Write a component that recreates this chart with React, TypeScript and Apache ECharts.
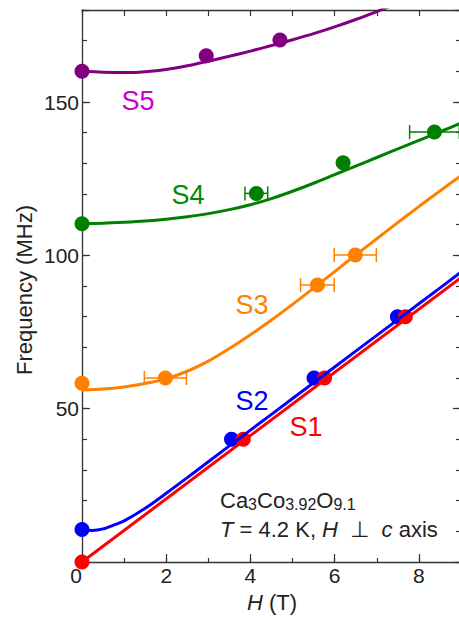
import React, { useEffect, useRef } from 'react';
import * as echarts from 'echarts';

// Measured resonance points [H (T), frequency (MHz)]
const S1_POINTS = [[0, 0], [3.83, 40], [5.76, 60], [7.68, 80]];
const S2_POINTS = [[0, 10.6], [3.55, 40], [5.51, 60], [7.49, 80]];
const S3_POINTS = [[0, 58.3], [1.98, 60], [5.59, 90.3], [6.49, 100.1]];
const S4_POINTS = [[0, 110.3], [4.14, 120.2], [6.2, 130.2], [8.37, 140.2]];
const S5_POINTS = [[0, 160], [2.95, 165.1], [4.7, 170.2]];

// Field uncertainties [H, frequency, ±dH]
const S3_ERR = [[1.98, 60, 0.5], [5.59, 90.3, 0.4], [6.49, 100.1, 0.5]];
const S4_ERR = [[4.14, 120.2, 0.27], [8.37, 140.2, 0.59]];

// Fitted curves
const S1_FIT = [[0, 0], [9, 92.7]];
const S2_FIT = [[0, 10.6], [0.25, 10.3], [0.5, 10.8], [0.75, 12], [1, 13.4], [1.5, 17.5], [2, 22.4], [2.5, 27.5], [3, 32.7], [4, 43], [5, 53.3], [6, 63.6], [7, 73.9], [8, 84.2], [9, 94.5]];
const S3_FIT = [[0, 56.1], [0.5, 56.4], [1, 57.1], [1.5, 58.2], [2, 59.8], [2.5, 62.2], [3, 65.5], [3.5, 69.6], [4, 74.1], [4.5, 78.9], [5, 84], [5.5, 89.3], [6, 94.7], [6.5, 100.1], [7, 105.4], [7.5, 110.7], [8, 115.9], [8.5, 121], [9, 126]];
const S4_FIT = [[0, 110.4], [0.5, 110.5], [1, 110.8], [1.5, 111.2], [2, 111.8], [2.5, 112.6], [3, 113.6], [3.5, 114.9], [4, 116.5], [4.5, 118.5], [5, 120.9], [5.5, 123.5], [6, 126.3], [6.5, 129.1], [7, 131.9], [7.5, 134.7], [8, 137.5], [8.5, 140.3], [9, 143.1]];
const S5_FIT = [[0, 160], [0.5, 159.7], [1, 159.6], [1.5, 159.9], [2, 160.6], [2.5, 161.8], [3, 163.3], [3.5, 164.9], [4, 166.6], [4.5, 168.4], [5, 170.3], [5.5, 172.3], [6, 174.5], [6.5, 176.9], [7, 179.5], [7.5, 182.2]];

const FONT = '"Liberation Sans", Arial, Helvetica, "DejaVu Sans", sans-serif';
const INK = '#222222';
const AXIS = '#333333';

const PURPLE = '#800080';
const GREEN = '#008000';
const ORANGE = '#FF8000';
const BLUE = '#0000FF';
const RED = '#FF0000';

function fitLine(data: number[][], color: string, smooth: number | boolean) {
  return {
    type: 'line',
    data,
    xAxisIndex: 0,
    yAxisIndex: 0,
    symbol: 'none',
    showSymbol: false,
    smooth,
    clip: true,
    silent: true,
    lineStyle: { color, width: 3 },
  };
}

function dots(data: number[][], color: string) {
  return {
    type: 'scatter',
    data,
    xAxisIndex: 0,
    yAxisIndex: 0,
    symbol: 'circle',
    symbolSize: 15,
    silent: true,
    itemStyle: { color, opacity: 1 },
  };
}

function errBars(data: number[][], color: string) {
  return {
    type: 'custom',
    data,
    xAxisIndex: 0,
    yAxisIndex: 0,
    silent: true,
    encode: { x: 0, y: 1 },
    renderItem: (_params: any, api: any) => {
      const x = api.value(0);
      const y = api.value(1);
      const e = api.value(2);
      const a = api.coord([x - e, y]);
      const b = api.coord([x + e, y]);
      const h = 7;
      const style = { stroke: color, lineWidth: 1.5, fill: null };
      return {
        type: 'group',
        children: [
          { type: 'line', shape: { x1: a[0], y1: a[1], x2: b[0], y2: b[1] }, style },
          { type: 'line', shape: { x1: a[0], y1: a[1] - h, x2: a[0], y2: a[1] + h }, style },
          { type: 'line', shape: { x1: b[0], y1: b[1] - h, x2: b[0], y2: b[1] + h }, style },
        ],
      };
    },
  };
}

function label(text: string, x: number, y: number, color: string, size = 27) {
  return {
    type: 'text',
    x,
    y,
    silent: true,
    style: {
      text,
      fill: color,
      fontSize: size,
      fontFamily: FONT,
      align: 'center',
      textAlign: 'center',
      verticalAlign: 'middle',
      textVerticalAlign: 'middle',
    },
  };
}

const axisLineStyle = { color: AXIS, width: 1.3 };
const tickStyle = { color: AXIS, width: 1.2 };

export default function App() {
  const ref = useRef<HTMLDivElement>(null);

  useEffect(() => {
    const chart = echarts.init(ref.current as HTMLDivElement, null, { renderer: 'svg' });

    const mainTok = { fontSize: 22, fontFamily: FONT, color: INK, lineHeight: 25 };
    const subTok = { fontSize: 16, fontFamily: FONT, color: INK, lineHeight: 12, verticalAlign: 'bottom' };
    const italTok = { fontSize: 22, fontFamily: FONT, color: INK, fontStyle: 'italic', lineHeight: 25 };

    chart.setOption({
      animation: false,
      backgroundColor: '#ffffff',
      grid: {
        left: 82,
        top: 10,
        width: 379,
        height: 552,
        containLabel: false,
        outerBoundsMode: 'none',
      },
      xAxis: [
        {
          type: 'value',
          position: 'bottom',
          min: 0,
          max: 9,
          interval: 2,
          axisLine: { show: true, onZero: false, lineStyle: axisLineStyle },
          axisTick: { show: true, inside: true, length: 8, lineStyle: tickStyle },
          splitLine: { show: false },
          axisLabel: {
            show: true,
            margin: 3,
            fontSize: 21,
            fontFamily: FONT,
            color: INK,
            formatter: (v: number) => (v === 0 ? '{z|0}' : v === 9 ? '' : String(v)),
            rich: { z: { fontSize: 21, fontFamily: FONT, color: INK, padding: [0, 12, 0, 0] } },
          },
        },
        {
          type: 'value',
          position: 'bottom',
          min: 0,
          max: 9,
          interval: 1,
          axisLine: { show: false, onZero: false },
          axisTick: { show: true, inside: true, length: 4, lineStyle: tickStyle },
          splitLine: { show: false },
          axisLabel: { show: false },
        },
        {
          type: 'value',
          position: 'top',
          min: 0,
          max: 9,
          interval: 1,
          axisLine: { show: true, onZero: false, lineStyle: axisLineStyle },
          axisTick: { show: true, inside: true, length: 6, lineStyle: tickStyle },
          splitLine: { show: false },
          axisLabel: { show: false },
        },
      ],
      yAxis: [
        {
          type: 'value',
          position: 'left',
          min: 0,
          max: 180,
          interval: 50,
          axisLine: { show: true, onZero: false, lineStyle: axisLineStyle },
          axisTick: { show: true, inside: true, length: 8, lineStyle: tickStyle },
          splitLine: { show: false },
          axisLabel: {
            show: true,
            margin: 3,
            fontSize: 21,
            fontFamily: FONT,
            color: INK,
            formatter: (v: number) => (v === 0 || v === 180 ? '' : String(v)),
          },
        },
        {
          type: 'value',
          position: 'left',
          min: 0,
          max: 180,
          interval: 10,
          axisLine: { show: false, onZero: false },
          axisTick: { show: true, inside: true, length: 5, lineStyle: tickStyle },
          splitLine: { show: false },
          axisLabel: { show: false },
        },
        {
          type: 'value',
          position: 'right',
          min: 0,
          max: 180,
          interval: 50,
          axisLine: { show: true, onZero: false, lineStyle: axisLineStyle },
          axisTick: { show: true, inside: true, length: 8, lineStyle: tickStyle },
          splitLine: { show: false },
          axisLabel: { show: false },
        },
        {
          type: 'value',
          position: 'right',
          min: 0,
          max: 180,
          interval: 10,
          axisLine: { show: false, onZero: false },
          axisTick: { show: true, inside: true, length: 5, lineStyle: tickStyle },
          splitLine: { show: false },
          axisLabel: { show: false },
        },
      ],
      series: [
        fitLine(S5_FIT, PURPLE, 0.3),
        fitLine(S4_FIT, GREEN, 0.3),
        fitLine(S3_FIT, ORANGE, 0.3),
        fitLine(S2_FIT, BLUE, 0.3),
        fitLine(S1_FIT, RED, false),
        errBars(S4_ERR, GREEN),
        errBars(S3_ERR, ORANGE),
        dots(S5_POINTS, PURPLE),
        dots(S4_POINTS, GREEN),
        dots(S3_POINTS, ORANGE),
        dots(S2_POINTS, BLUE),
        dots(S1_POINTS, RED),
      ],
      graphic: [
        {
          type: 'text',
          x: 24,
          y: 290,
          rotation: Math.PI / 2,
          silent: true,
          style: {
            text: 'Frequency (MHz)',
            fill: INK,
            fontSize: 22,
            fontFamily: FONT,
            align: 'center',
            textAlign: 'center',
            verticalAlign: 'middle',
            textVerticalAlign: 'middle',
          },
        },
        {
          type: 'text',
          x: 272,
          y: 602,
          silent: true,
          style: {
            text: '{i|H} {n|(T)}',
            fill: INK,
            fontSize: 22,
            fontFamily: FONT,
            align: 'center',
            textAlign: 'center',
            verticalAlign: 'middle',
            textVerticalAlign: 'middle',
            rich: {
              i: { fontSize: 22, fontFamily: FONT, fontStyle: 'italic', color: INK },
              n: { fontSize: 22, fontFamily: FONT, color: INK },
            },
          },
        },
        label('S5', 138, 101, '#CC00CC'),
        label('S4', 188, 195, '#008C00'),
        label('S3', 252, 305, '#FF7F00'),
        label('S2', 252, 401, '#0000FF'),
        label('S1', 306, 427, '#FF0000'),
        {
          type: 'text',
          x: 220,
          y: 500,
          silent: true,
          style: {
            text: '{n|Ca}{s|3}{n|Co}{s|3.92}{n|O}{s|9.1}',
            fill: INK,
            fontSize: 22,
            fontFamily: FONT,
            align: 'left',
            textAlign: 'left',
            verticalAlign: 'middle',
            textVerticalAlign: 'middle',
            rich: { n: mainTok, s: subTok },
          },
        },
        {
          type: 'text',
          x: 220,
          y: 529,
          silent: true,
          style: {
            text: '{i|T}{n| = 4.2 K, }{i|H}{n|  ⊥  }{i|c}{n| axis}',
            fill: INK,
            fontSize: 22,
            fontFamily: FONT,
            align: 'left',
            textAlign: 'left',
            verticalAlign: 'middle',
            textVerticalAlign: 'middle',
            rich: { n: mainTok, i: italTok },
          },
        },
      ],
    });

    return () => {
      chart.dispose();
    };
  }, []);

  return (
    <div
      ref={ref}
      style={{ position: 'fixed', left: 0, top: 0, width: 459, height: 617, background: '#ffffff' }}
    />
  );
}
